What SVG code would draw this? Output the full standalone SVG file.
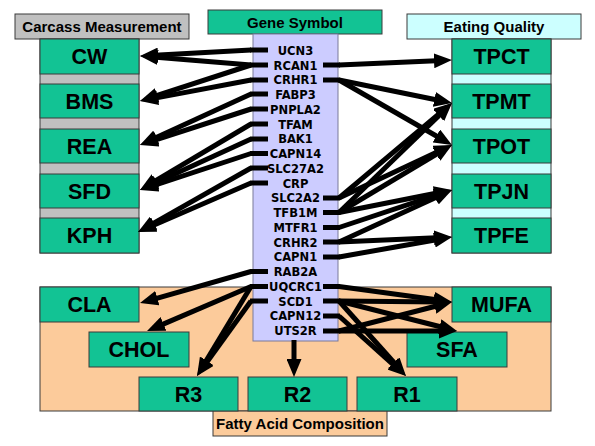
<svg xmlns="http://www.w3.org/2000/svg" width="595" height="446" viewBox="0 0 595 446">
<style>
.g{fill:#12C394;stroke:#3a3a3a;stroke-width:1}
.hdr{font-family:"Liberation Sans",Arial,sans-serif;font-weight:bold;font-size:15px;fill:#000;text-anchor:middle}
.lbl{font-family:"Liberation Sans",Arial,sans-serif;font-weight:bold;font-size:21.5px;fill:#000;text-anchor:middle}
.gene{font-family:"Liberation Sans Narrow","DejaVu Sans Condensed",sans-serif;font-weight:bold;font-size:12.8px;fill:#000;text-anchor:middle}
.c{fill:none;stroke:#000;stroke-width:5;marker-end:url(#ah)}
.s{stroke:#000;stroke-width:5}
</style>
<defs>
<marker id="ah" markerUnits="userSpaceOnUse" markerWidth="18" markerHeight="15" refX="8" refY="7.5" orient="auto">
<path d="M0,0 L18,7.5 L0,15 z" fill="#000"/>
</marker>
</defs>
<rect width="595" height="446" fill="#fff"/>

<g id="fatty-acid-area">
<rect x="40" y="287" width="511" height="124" fill="#FCCB9B" stroke="#3a3a3a"/>
<rect x="213" y="411" width="174" height="25" fill="#FCCB9B" stroke="#3a3a3a"/>
<text class="hdr" x="300" y="429">Fatty Acid Composition</text>
</g>

<g id="carcass-header">
<rect x="15" y="14" width="174" height="25" fill="#C0C0C0" stroke="#3a3a3a"/>
<text class="hdr" x="102" y="32">Carcass Measurement</text>
</g>
<rect x="40" y="39" width="99" height="214" fill="#C0C0C0" stroke="#3a3a3a"/>
<g id="CW"><rect class="g" x="40" y="39" width="99" height="35"/><text class="lbl" x="89.5" y="64">CW</text></g>
<g id="BMS"><rect class="g" x="40" y="84" width="99" height="34"/><text class="lbl" x="89.5" y="108.5">BMS</text></g>
<g id="REA"><rect class="g" x="40" y="129" width="99" height="34"/><text class="lbl" x="89.5" y="153.5">REA</text></g>
<g id="SFD"><rect class="g" x="40" y="174" width="99" height="34"/><text class="lbl" x="89.5" y="198.5">SFD</text></g>
<g id="KPH"><rect class="g" x="40" y="218" width="99" height="35"/><text class="lbl" x="89.5" y="243">KPH</text></g>

<g id="eating-header">
<rect x="407" y="14" width="174" height="25" fill="#CCFFFF" stroke="#3a3a3a"/>
<text class="hdr" x="494" y="32">Eating Quality</text>
</g>
<rect x="452" y="39" width="99" height="214" fill="#CCFFFF" stroke="#3a3a3a"/>
<g id="TPCT"><rect class="g" x="452" y="39" width="99" height="35"/><text class="lbl" x="501.5" y="64">TPCT</text></g>
<g id="TPMT"><rect class="g" x="452" y="84" width="99" height="34"/><text class="lbl" x="501.5" y="108.5">TPMT</text></g>
<g id="TPOT"><rect class="g" x="452" y="129" width="99" height="34"/><text class="lbl" x="501.5" y="153.5">TPOT</text></g>
<g id="TPJN"><rect class="g" x="452" y="174" width="99" height="34"/><text class="lbl" x="501.5" y="198.5">TPJN</text></g>
<g id="TPFE"><rect class="g" x="452" y="218" width="99" height="35"/><text class="lbl" x="501.5" y="243">TPFE</text></g>

<g id="CLA"><rect class="g" x="40" y="287" width="99" height="35"/><text class="lbl" x="89.5" y="312">CLA</text></g>
<g id="CHOL"><rect class="g" x="89" y="332" width="100" height="35"/><text class="lbl" x="139" y="357">CHOL</text></g>
<g id="R3"><rect class="g" x="139" y="377" width="99" height="34"/><text class="lbl" x="188.5" y="401.5">R3</text></g>
<g id="R2"><rect class="g" x="248" y="377" width="99" height="34"/><text class="lbl" x="297.5" y="401.5">R2</text></g>
<g id="R1"><rect class="g" x="357" y="377" width="100" height="34"/><text class="lbl" x="407" y="401.5">R1</text></g>
<g id="SFA"><rect class="g" x="407" y="332" width="100" height="35"/><text class="lbl" x="457" y="357">SFA</text></g>
<g id="MUFA"><rect class="g" x="452" y="287" width="99" height="35"/><text class="lbl" x="501.5" y="312">MUFA</text></g>

<g id="gene-symbol">
<rect x="208" y="10" width="174" height="24" fill="#12C394" stroke="#3a3a3a"/>
<text class="hdr" x="295" y="27.5">Gene Symbol</text>
<rect x="253" y="34" width="85" height="307" fill="#CCCCFF" stroke="#7a7a9a"/>
<text class="gene" x="295.5" y="54.5">UCN3</text>
<text class="gene" x="295.5" y="69.5">RCAN1</text>
<text class="gene" x="295.5" y="84">CRHR1</text>
<text class="gene" x="295.5" y="98.5">FABP3</text>
<text class="gene" x="295.5" y="113.5">PNPLA2</text>
<text class="gene" x="295.5" y="128.5">TFAM</text>
<text class="gene" x="295.5" y="143">BAK1</text>
<text class="gene" x="295.5" y="158">CAPN14</text>
<text class="gene" x="295.5" y="172.5">SLC27A2</text>
<text class="gene" x="295.5" y="187.5">CRP</text>
<text class="gene" x="295.5" y="202">SLC2A2</text>
<text class="gene" x="295.5" y="217">TFB1M</text>
<text class="gene" x="295.5" y="231.5">MTFR1</text>
<text class="gene" x="295.5" y="246.5">CRHR2</text>
<text class="gene" x="295.5" y="261">CAPN1</text>
<text class="gene" x="295.5" y="276">RAB2A</text>
<text class="gene" x="295.5" y="290.5">UQCRC1</text>
<text class="gene" x="295.5" y="305.5">SCD1</text>
<text class="gene" x="295.5" y="320">CAPN12</text>
<text class="gene" x="295.5" y="335">UTS2R</text>
</g>

<g id="connectors">
<g class="stubs">
<line class="s" x1="250" y1="50" x2="268" y2="50"/>
<line class="s" x1="250" y1="65" x2="268" y2="65"/>
<line class="s" x1="250" y1="80" x2="268" y2="80"/>
<line class="s" x1="250" y1="94" x2="268" y2="94"/>
<line class="s" x1="250" y1="109" x2="268" y2="109"/>
<line class="s" x1="250" y1="124" x2="268" y2="124"/>
<line class="s" x1="250" y1="139" x2="268" y2="139"/>
<line class="s" x1="250" y1="153.5" x2="268" y2="153.5"/>
<line class="s" x1="250" y1="168" x2="268" y2="168"/>
<line class="s" x1="250" y1="183" x2="268" y2="183"/>
<line class="s" x1="250" y1="271.5" x2="268" y2="271.5"/>
<line class="s" x1="250" y1="286.5" x2="268" y2="286.5"/>
<line class="s" x1="250" y1="301" x2="268" y2="301"/>
<line class="s" x1="323" y1="65" x2="340" y2="65"/>
<line class="s" x1="323" y1="80" x2="340" y2="80"/>
<line class="s" x1="323" y1="198" x2="340" y2="198"/>
<line class="s" x1="323" y1="212.5" x2="340" y2="212.5"/>
<line class="s" x1="323" y1="227.5" x2="340" y2="227.5"/>
<line class="s" x1="323" y1="242" x2="340" y2="242"/>
<line class="s" x1="323" y1="257" x2="340" y2="257"/>
<line class="s" x1="323" y1="286.5" x2="340" y2="286.5"/>
<line class="s" x1="323" y1="301" x2="340" y2="301"/>
<line class="s" x1="323" y1="316" x2="340" y2="316"/>
<line class="s" x1="323" y1="331" x2="340" y2="331"/>
</g>
<path class="c" d="M251,50 L150,55.5"/>
<path class="c" d="M251,65 L150,56.8"/>
<path class="c" d="M251,65 L149.5,97.9"/>
<path class="c" d="M251,80 L149.8,99.1"/>
<path class="c" d="M251,94 L149.1,140.8"/>
<path class="c" d="M251,109 L149.5,141.9"/>
<path class="c" d="M251,124 L148.6,184.9"/>
<path class="c" d="M251,139 L149.1,185.8"/>
<path class="c" d="M251,153.5 L149.5,186.9"/>
<path class="c" d="M251,168 L146.7,227.1"/>
<path class="c" d="M251,183 L147.2,228"/>
<path class="c" d="M251,271.5 L149.6,300.3"/>
<path class="c" d="M251,286.5 L156.2,327.1"/>
<path class="c" d="M251,286.5 L202.2,367.4"/>
<path class="c" d="M251,301 L202.8,367.9"/>
<path class="c" d="M339,65 L442,60.4"/>
<path class="c" d="M339,80 L442.2,101"/>
<path class="c" d="M339,80 L443.3,140"/>
<path class="c" d="M339,198 L444.3,109.4"/>
<path class="c" d="M339,198 L443,149.2"/>
<path class="c" d="M339,212.5 L444.8,110"/>
<path class="c" d="M339,212.5 L443.4,150.1"/>
<path class="c" d="M339,212.5 L442.2,192"/>
<path class="c" d="M339,227.5 L442.5,193.2"/>
<path class="c" d="M339,242 L442.9,194.2"/>
<path class="c" d="M339,242 L442,237.4"/>
<path class="c" d="M339,257 L442.2,238.7"/>
<path class="c" d="M339,286.5 L442.1,300.6"/>
<path class="c" d="M339,301 L442,301.9"/>
<path class="c" d="M339,301 L447.3,328.5"/>
<path class="c" d="M339,301 L399.3,368.5"/>
<path class="c" d="M339,316 L398.5,369.3"/>
<path class="c" d="M339,331 L447,331"/>
<path class="c" d="M339,331 L442.3,304.5"/>
<path class="c" d="M294,340 L294,367"/>
</g>
</svg>
